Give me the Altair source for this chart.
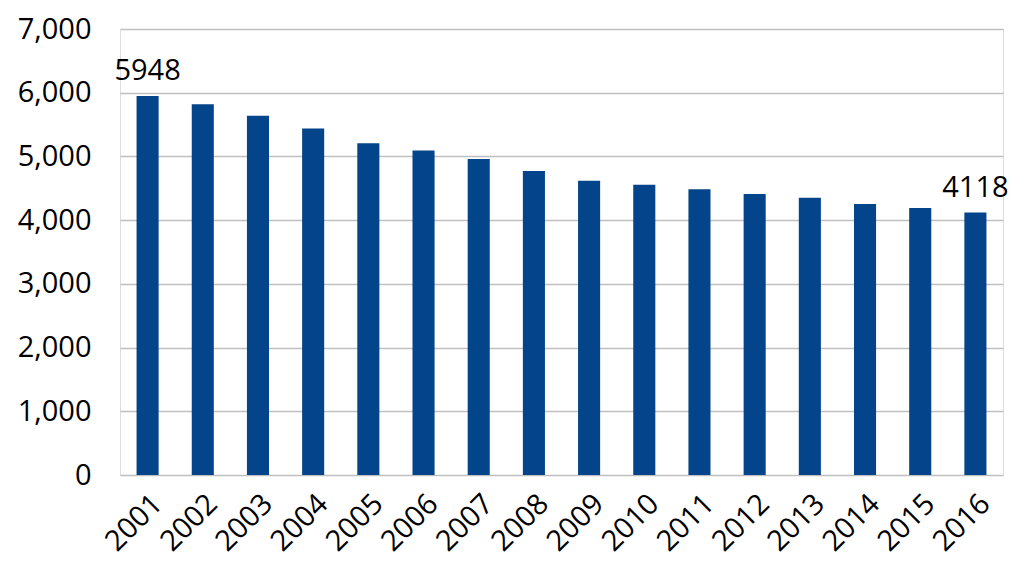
import altair as alt
import pandas as pd

years = [str(y) for y in range(2001, 2017)]
values = [5948, 5820, 5640, 5440, 5205, 5095, 4960, 4770, 4620, 4555, 4485, 4410, 4350, 4255, 4190, 4118]
label_years = ["2001", "2016"]

df = pd.DataFrame({"year": years, "value": values})
df["label"] = [str(v) if y in label_years else "" for y, v in zip(years, values)]

FONT = "Open Sans"

x = alt.X("year:N", sort=None, title=None,
          scale=alt.Scale(paddingInner=0.6, paddingOuter=0.3),
          axis=alt.Axis(labelAngle=-45, labelAlign="right", labelBaseline="top",
                        labelPadding=14, ticks=False, domain=False,
                        labelFontSize=29, labelFont=FONT, labelColor="#000000"))
y = alt.Y("value:Q", title=None,
          scale=alt.Scale(domain=[0, 7000], nice=False),
          axis=alt.Axis(values=[0, 1000, 2000, 3000, 4000, 5000, 6000, 7000], format=",.0f",
                        ticks=False, domain=False, labelPadding=29,
                        labelFontSize=29, labelFont=FONT, labelColor="#000000",
                        gridColor="#BFBFBF", gridWidth=1.5))

bars = alt.Chart(df).mark_bar(color="#03448A").encode(x=x, y=y)
text = alt.Chart(df).mark_text(baseline="bottom", dy=-10, fontSize=29, font=FONT, color="#000000").encode(
    x=alt.X("year:N", sort=None), y="value:Q", text="label:N")

chart = (bars + text).properties(
    width=883, height=446,
    padding={"left": 112, "top": 21, "right": 13, "bottom": 90},
    autosize=alt.AutoSizeParams(type="none"),
).configure_view(stroke="#BFBFBF", strokeWidth=1.5).configure(background="white")

chart.save("out.html", embed_options={"renderer": "svg", "actions": False})
